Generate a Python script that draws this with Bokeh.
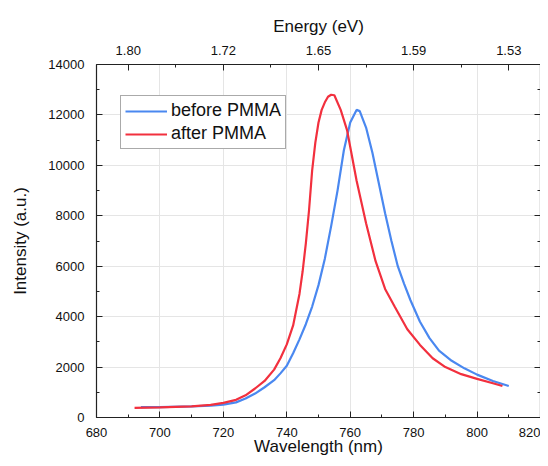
from bokeh.plotting import figure
from bokeh.models import (LinearAxis, SingleIntervalTicker, FixedTicker, Range1d,
                          Legend, LegendItem)
from bokeh.embed import file_html
from bokeh.resources import INLINE

# ---- data ----
wl_before = [694, 700, 710, 716, 720, 724, 727, 730, 733, 736, 738, 740, 742, 744,
             746, 748, 750, 752, 754, 756, 758, 760, 762, 763, 765, 767, 769, 771,
             773, 775, 777, 779, 782, 785, 788, 792, 796, 800, 805, 810]
int_before = [410, 415, 440, 470, 510, 600, 750, 950, 1200, 1480, 1750, 2050, 2550, 3100,
              3700, 4400, 5250, 6300, 7600, 9000, 10600, 11700, 12200, 12150, 11500, 10500, 9300, 8100,
              7000, 6000, 5300, 4650, 3800, 3150, 2650, 2250, 1950, 1700, 1450, 1250]

wl_after = [692, 700, 710, 716, 720, 724, 727, 730, 733, 736, 738, 740, 742, 744, 745,
            746, 747, 748, 749, 750, 751, 752, 753, 754, 755, 757, 759, 762, 765, 768, 771, 774, 778,
            782, 786, 790, 795, 800, 805, 808]
int_after = [385, 400, 440, 500, 580, 700, 880, 1150, 1450, 1900, 2350, 2900, 3650, 4900, 5800,
             6900, 8200, 9800, 10900, 11700, 12200, 12500, 12720, 12800, 12780, 12200, 11400, 9400, 7700,
             6200, 5100, 4400, 3500, 2880, 2350, 2000, 1720, 1530, 1360, 1250]

energy_tick_nm = [690, 720, 750, 780, 810]
energy_minor_nm = [705, 735, 765, 795]
energy_labels = ["1.80", "1.72", "1.65", "1.59", "1.53"]
intensity_ticks = [0, 2000, 4000, 6000, 8000, 10000, 12000, 14000]

series_labels = ["before PMMA", "after PMMA"]
colors = ["#4a88f0", "#f2303e"]

FONT = "Liberation Sans"

p = figure(width=540, height=458, output_backend="svg", toolbar_location=None,
           x_range=Range1d(680, 820), y_range=Range1d(0, 14000),
           x_axis_location=None, y_axis_location=None,
           min_border_left=96, min_border_right=0, min_border_top=64,
           min_border_bottom=41)
p.outline_line_color = None
p.background_fill_color = "white"
p.border_fill_color = "white"


def style(ax):
    ax.axis_line_color = "#222222"
    ax.axis_line_width = 1.2
    ax.major_tick_line_color = "#222222"
    ax.minor_tick_line_color = "#222222"
    ax.major_tick_in = 6
    ax.major_tick_out = 0
    ax.minor_tick_in = 3
    ax.minor_tick_out = 0
    ax.major_label_text_font = FONT
    ax.major_label_text_font_size = "13px"
    ax.major_label_text_color = "#111111"
    ax.major_label_standoff = 11
    ax.axis_label_text_font = FONT
    ax.axis_label_text_font_size = "17px"
    ax.axis_label_text_font_style = "normal"
    ax.axis_label_text_color = "#111111"


bottom = LinearAxis(ticker=SingleIntervalTicker(interval=20, num_minor_ticks=2),
                    axis_label="Wavelength (nm)")
style(bottom)
bottom.major_label_standoff = 10
bottom.axis_label_standoff = -3
p.add_layout(bottom, "below")

top = LinearAxis(ticker=FixedTicker(ticks=energy_tick_nm, minor_ticks=energy_minor_nm),
                 axis_label="Energy (eV)")
style(top)
top.major_label_overrides = {t: l for t, l in zip(energy_tick_nm, energy_labels)}
top.major_label_standoff = 10
top.axis_label_standoff = 7
p.add_layout(top, "above")

left = LinearAxis(ticker=SingleIntervalTicker(interval=2000, num_minor_ticks=2),
                  axis_label="Intensity (a.u.)")
style(left)
left.major_label_standoff = 12
left.axis_label_standoff = 15
p.add_layout(left, "left")

right = LinearAxis(ticker=SingleIntervalTicker(interval=2000, num_minor_ticks=2))
style(right)
right.major_label_standoff = 0
right.major_label_overrides = {t: "" for t in intensity_ticks}
p.add_layout(right, "right")

rb = p.line(wl_before, int_before, line_color=colors[0], line_width=2.2)
ra = p.line(wl_after, int_after, line_color=colors[1], line_width=2.2)

legend = Legend(items=[LegendItem(label=series_labels[0], renderers=[rb]),
                       LegendItem(label=series_labels[1], renderers=[ra])],
                location=(24, 268), margin=0, padding=4, spacing=2,
                glyph_width=42, glyph_height=20, label_height=20, label_standoff=4,
                label_text_font=FONT, label_text_font_size="18px",
                label_text_color="#111111",
                border_line_color="#555555", border_line_width=1,
                background_fill_color="white", background_fill_alpha=1)
p.add_layout(legend)

open("out.html", "w").write(file_html(p, INLINE))
